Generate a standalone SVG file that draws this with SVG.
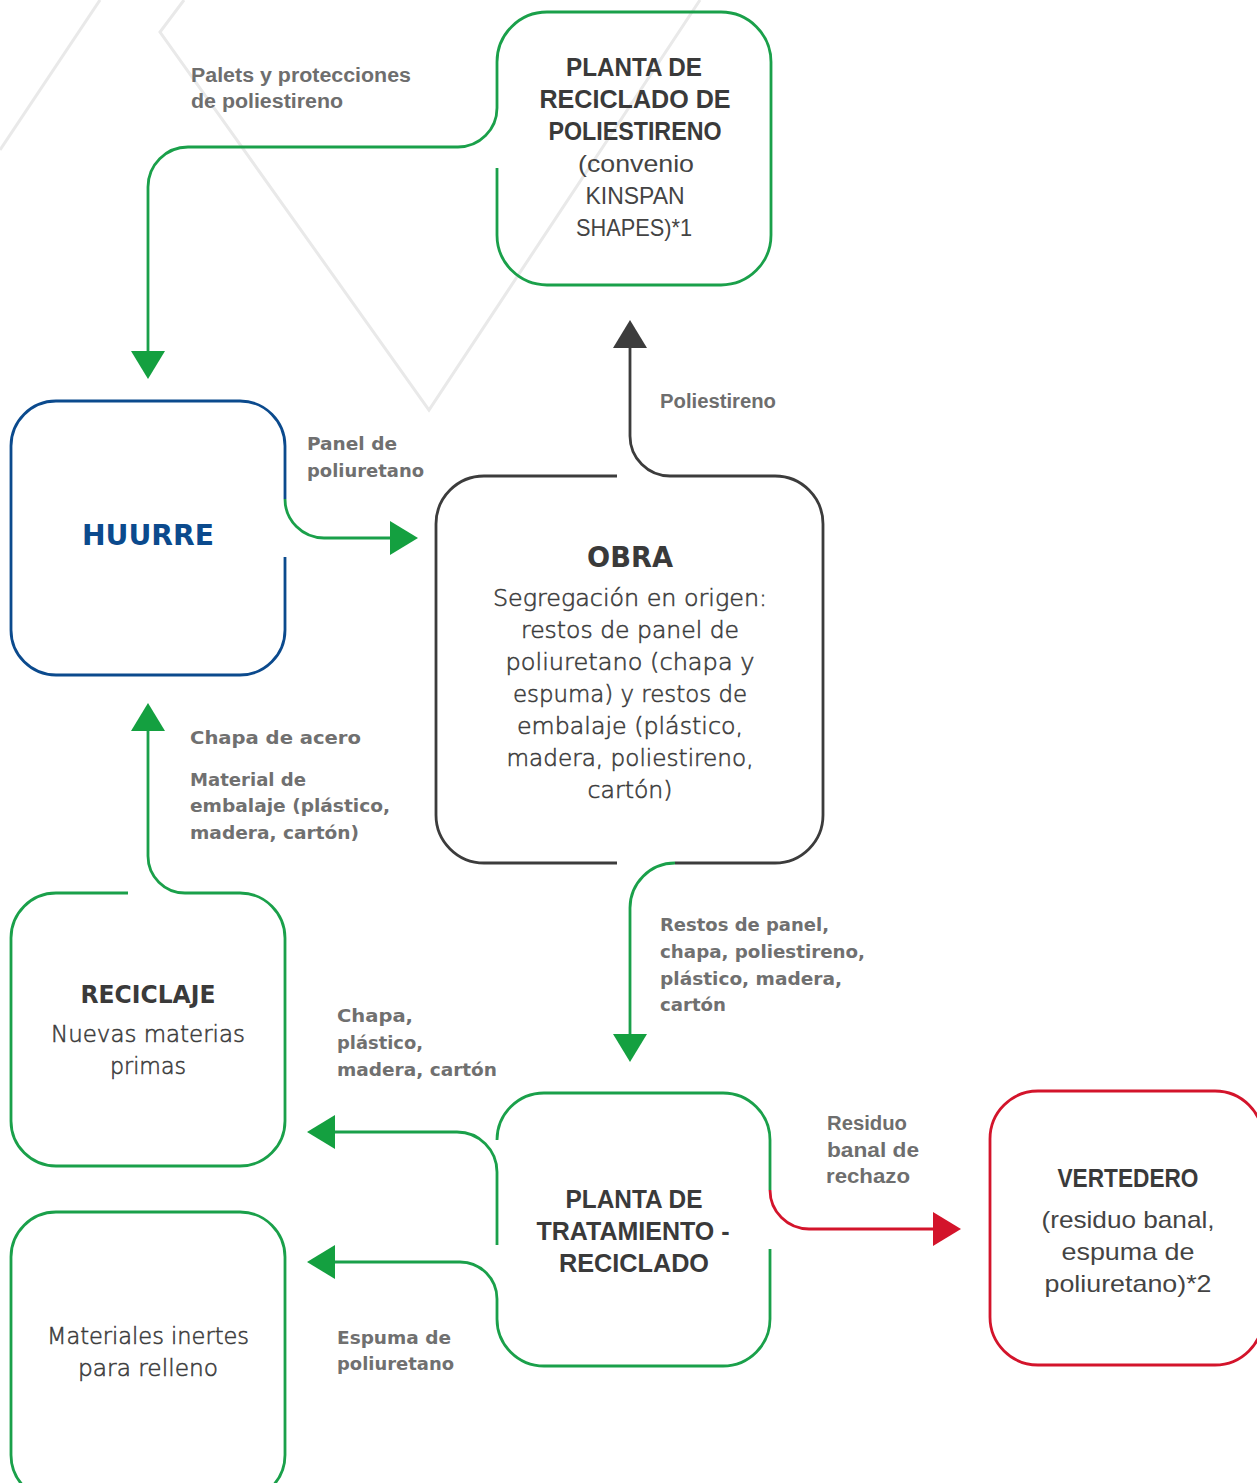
<svg xmlns="http://www.w3.org/2000/svg" width="1257" height="1483" viewBox="0 0 1257 1483">
<defs>
<style>
.bg{fill:none;stroke:#e9e9e9;stroke-width:3}
.edge{fill:none;stroke-width:2.8;stroke-linecap:butt}
.g{stroke:#1aa04a}
.b{stroke:#0b4a8d}
.k{stroke:#3c3c3c}
.r{stroke:#d3142b}
.cb{font-family:"Liberation Sans",Arial,sans-serif;font-weight:700;font-size:25px;fill:#3a3a3a}
.cl{font-family:"Liberation Sans",Arial,sans-serif;font-weight:400;font-size:24px;fill:#444}
.gb{font-family:"DejaVu Sans",sans-serif;font-weight:700;fill:#3a3a3a}
.body{font-family:"DejaVu Sans",sans-serif;font-weight:300;font-size:23px;fill:#3c3c3c;stroke:#3c3c3c;stroke-width:0.55}
.lbl{font-family:"DejaVu Sans",sans-serif;font-weight:700;font-size:18px;fill:#707070}
.lblc{font-family:"Liberation Sans",Arial,sans-serif;font-weight:700;font-size:20px;fill:#6e6e6e}
.m{text-anchor:middle}
</style>
<marker id="ag" markerUnits="userSpaceOnUse" markerWidth="30" markerHeight="36" refX="0" refY="17" orient="auto" viewBox="0 0 30 36"><path d="M0,0 L28,17 L0,34 Z" fill="#14a040"/></marker>
<marker id="ak" markerUnits="userSpaceOnUse" markerWidth="30" markerHeight="36" refX="0" refY="17" orient="auto" viewBox="0 0 30 36"><path d="M0,0 L28,17 L0,34 Z" fill="#3c3c3c"/></marker>
<marker id="ar" markerUnits="userSpaceOnUse" markerWidth="30" markerHeight="36" refX="0" refY="17" orient="auto" viewBox="0 0 30 36"><path d="M0,0 L28,17 L0,34 Z" fill="#d3142b"/></marker>
</defs>
<rect width="1257" height="1483" fill="#ffffff"/>
<g id="background">
<path class="bg" d="M0,150 L100,0"/>
<path class="bg" d="M184,0 L160,32 L429,410 L700,0"/>
</g>

<g id="connectors">
<path class="edge g" d="M497,108 A39,39 0 0 1 458,147 H188 A40,40 0 0 0 148,187 V351" marker-end="url(#ag)"/>
<path class="edge g" d="M285,499 A39,39 0 0 0 324,538 H390" marker-end="url(#ag)"/>
<path class="edge k" d="M670,476 A40,40 0 0 1 630,436 V348" marker-end="url(#ak)"/>
<path class="edge g" d="M675,863 A45,45 0 0 0 630,908 V1034" marker-end="url(#ag)"/>
<path class="edge g" d="M185,893 A37,37 0 0 1 148,856 V731" marker-end="url(#ag)"/>
<path class="edge g" d="M497,1245 V1172 A40,40 0 0 0 457,1132 H335" marker-end="url(#ag)"/>
<path class="edge g" d="M497,1299 A37,37 0 0 0 460,1262 H335" marker-end="url(#ag)"/>
<path class="edge r" d="M770,1190 A39,39 0 0 0 809,1229 H933" marker-end="url(#ar)"/>
<text class="lblc" x="191" y="82" textLength="220" lengthAdjust="spacingAndGlyphs">Palets y protecciones</text>
<text class="lblc" x="191" y="108" textLength="152" lengthAdjust="spacingAndGlyphs">de poliestireno</text>
<text class="lblc" x="660" y="408" textLength="116" lengthAdjust="spacingAndGlyphs">Poliestireno</text>
<text class="lbl" x="307" y="450" textLength="90" lengthAdjust="spacingAndGlyphs">Panel de</text>
<text class="lbl" x="307" y="477" textLength="117" lengthAdjust="spacingAndGlyphs">poliuretano</text>
<text class="lbl" x="190" y="744" textLength="171" lengthAdjust="spacingAndGlyphs">Chapa de acero</text>
<text class="lbl" x="190" y="786" textLength="116" lengthAdjust="spacingAndGlyphs">Material de</text>
<text class="lbl" x="190" y="812" textLength="200" lengthAdjust="spacingAndGlyphs">embalaje (plástico,</text>
<text class="lbl" x="190" y="839" textLength="169" lengthAdjust="spacingAndGlyphs">madera, cartón)</text>
<text class="lbl" x="660" y="931" textLength="169" lengthAdjust="spacingAndGlyphs">Restos de panel,</text>
<text class="lbl" x="660" y="958" textLength="205" lengthAdjust="spacingAndGlyphs">chapa, poliestireno,</text>
<text class="lbl" x="660" y="985" textLength="182" lengthAdjust="spacingAndGlyphs">plástico, madera,</text>
<text class="lbl" x="660" y="1011" textLength="66" lengthAdjust="spacingAndGlyphs">cartón</text>
<text class="lbl" x="337" y="1022" textLength="76" lengthAdjust="spacingAndGlyphs">Chapa,</text>
<text class="lbl" x="337" y="1049" textLength="86" lengthAdjust="spacingAndGlyphs">plástico,</text>
<text class="lbl" x="337" y="1076" textLength="160" lengthAdjust="spacingAndGlyphs">madera, cartón</text>
<text class="lbl" x="337" y="1344" textLength="114" lengthAdjust="spacingAndGlyphs">Espuma de</text>
<text class="lbl" x="337" y="1370" textLength="117" lengthAdjust="spacingAndGlyphs">poliuretano</text>
<text class="lblc" x="827" y="1130" textLength="80" lengthAdjust="spacingAndGlyphs">Residuo</text>
<text class="lblc" x="827" y="1157" textLength="92" lengthAdjust="spacingAndGlyphs">banal de</text>
<text class="lblc" x="826" y="1183" textLength="84" lengthAdjust="spacingAndGlyphs">rechazo</text>
</g>

<g id="planta-poliestireno">
<path class="edge g" d="M497,168 V235 A50,50 0 0 0 547,285 H721 A50,50 0 0 0 771,235 V62 A50,50 0 0 0 721,12 H547 A50,50 0 0 0 497,62 V108"/>
<text class="cb m" x="634" y="76" textLength="136" lengthAdjust="spacingAndGlyphs">PLANTA DE</text>
<text class="cb m" x="635" y="108" textLength="191" lengthAdjust="spacingAndGlyphs">RECICLADO DE</text>
<text class="cb m" x="635" y="140" textLength="173" lengthAdjust="spacingAndGlyphs">POLIESTIRENO</text>
<text class="cl m" x="636" y="172" textLength="116" lengthAdjust="spacingAndGlyphs">(convenio</text>
<text class="cl m" x="635" y="204" textLength="99" lengthAdjust="spacingAndGlyphs">KINSPAN</text>
<text class="cl m" x="634" y="236" textLength="116" lengthAdjust="spacingAndGlyphs">SHAPES)*1</text>
</g>

<g id="huurre">
<path class="edge b" d="M285,557 V630 A45,45 0 0 1 240,675 H56 A45,45 0 0 1 11,630 V446 A45,45 0 0 1 56,401 H240 A45,45 0 0 1 285,446 V499"/>
<text class="gb m" x="148" y="545" font-size="28" style="fill:#0b4a8d" textLength="132" lengthAdjust="spacingAndGlyphs">HUURRE</text>
</g>

<g id="obra">
<path class="edge k" d="M617,476 H484 A48,48 0 0 0 436,524 V815 A48,48 0 0 0 484,863 H617"/>
<path class="edge k" d="M670,476 H775 A48,48 0 0 1 823,524 V815 A48,48 0 0 1 775,863 H675"/>
<text class="gb m" x="630" y="567" font-size="28" textLength="86" lengthAdjust="spacingAndGlyphs">OBRA</text>
<text class="body m" x="630" y="606" textLength="274" lengthAdjust="spacingAndGlyphs">Segregación en origen:</text>
<text class="body m" x="630" y="638" textLength="218" lengthAdjust="spacingAndGlyphs">restos de panel de</text>
<text class="body m" x="630" y="670" textLength="249" lengthAdjust="spacingAndGlyphs">poliuretano (chapa y</text>
<text class="body m" x="630" y="702" textLength="234" lengthAdjust="spacingAndGlyphs">espuma) y restos de</text>
<text class="body m" x="630" y="734" textLength="226" lengthAdjust="spacingAndGlyphs">embalaje (plástico,</text>
<text class="body m" x="630" y="766" textLength="247" lengthAdjust="spacingAndGlyphs">madera, poliestireno,</text>
<text class="body m" x="630" y="798" textLength="85" lengthAdjust="spacingAndGlyphs">cartón)</text>
</g>

<g id="reciclaje">
<path class="edge g" d="M128,893 H56 A45,45 0 0 0 11,938 V1121 A45,45 0 0 0 56,1166 H240 A45,45 0 0 0 285,1121 V938 A45,45 0 0 0 240,893 H185"/>
<text class="gb m" x="148" y="1003" font-size="25" textLength="135" lengthAdjust="spacingAndGlyphs">RECICLAJE</text>
<text class="body m" x="148" y="1042" textLength="194" lengthAdjust="spacingAndGlyphs">Nuevas materias</text>
<text class="body m" x="148" y="1074" textLength="76" lengthAdjust="spacingAndGlyphs">primas</text>
</g>

<g id="materiales-inertes">
<rect class="edge g" x="11" y="1212" width="274" height="288" rx="45" ry="45"/>
<text class="body m" x="148" y="1344" textLength="202" lengthAdjust="spacingAndGlyphs">Materiales inertes</text>
<text class="body m" x="148" y="1376" textLength="140" lengthAdjust="spacingAndGlyphs">para relleno</text>
</g>

<g id="planta-tratamiento">
<path class="edge g" d="M497,1140 A47,47 0 0 1 544,1093 H723 A47,47 0 0 1 770,1140 V1190"/>
<path class="edge g" d="M770,1249 V1319 A47,47 0 0 1 723,1366 H544 A47,47 0 0 1 497,1319 V1299"/>
<text class="cb m" x="634" y="1208" textLength="137" lengthAdjust="spacingAndGlyphs">PLANTA DE</text>
<text class="cb m" x="633" y="1240" textLength="193" lengthAdjust="spacingAndGlyphs">TRATAMIENTO -</text>
<text class="cb m" x="634" y="1272" textLength="150" lengthAdjust="spacingAndGlyphs">RECICLADO</text>
</g>

<g id="vertedero">
<rect class="edge r" x="990" y="1091" width="273" height="274" rx="48" ry="48"/>
<text class="cb m" x="1128" y="1187" textLength="141" lengthAdjust="spacingAndGlyphs">VERTEDERO</text>
<text class="cl m" x="1128" y="1228" textLength="173" lengthAdjust="spacingAndGlyphs">(residuo banal,</text>
<text class="cl m" x="1128" y="1260" textLength="133" lengthAdjust="spacingAndGlyphs">espuma de</text>
<text class="cl m" x="1128" y="1292" textLength="167" lengthAdjust="spacingAndGlyphs">poliuretano)*2</text>
</g>
</svg>
